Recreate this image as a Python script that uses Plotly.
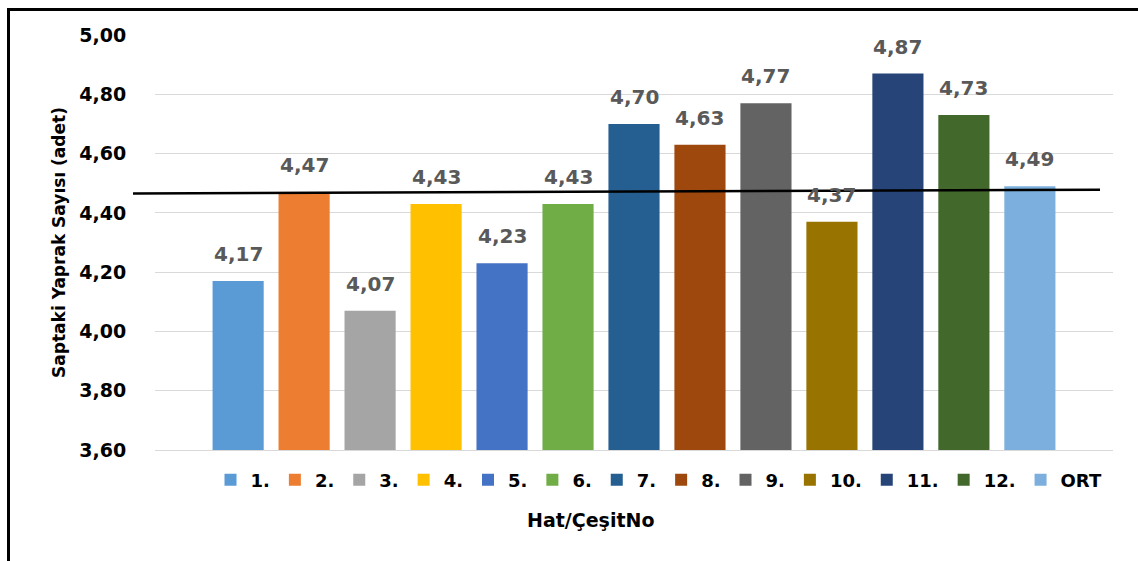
import plotly.graph_objects as go

# Series (one bar per line / cultivar) and their values
categories = ["1.", "2.", "3.", "4.", "5.", "6.", "7.", "8.", "9.", "10.", "11.", "12.", "ORT"]
values = [4.17, 4.47, 4.07, 4.43, 4.23, 4.43, 4.70, 4.63, 4.77, 4.37, 4.87, 4.73, 4.49]
colors = ["#5B9BD5", "#ED7D31", "#A5A5A5", "#FFC000", "#4472C4", "#70AD47", "#255E91",
          "#9E480E", "#636363", "#997300", "#264478", "#43682B", "#7CAFDD"]

# Reference (mean) line, start and end levels
ref_line_y = [4.465, 4.478]

y_ticks = [3.60, 3.80, 4.00, 4.20, 4.40, 4.60, 4.80, 5.00]

FONT = "DejaVu Sans"
W, H = 1138, 561
ML, MR, MT, MB = 155, 25, 35, 111
PW = W - ML - MR
PH = H - MT - MB


def px_x(p):
    return (p - ML) / PW


def px_y(p):
    return (H - MB - p) / PH


fig = go.Figure()
for i, (name, val, col) in enumerate(zip(categories, values, colors)):
    fig.add_trace(go.Bar(
        x=[i], y=[val], name=name, width=0.775,
        marker=dict(color=col, line=dict(width=0)),
        hoverinfo="skip",
    ))
    fig.add_annotation(
        x=i, y=val, text=f"{val:.2f}".replace(".", ","),
        showarrow=False, yanchor="bottom", yshift=13,
        font=dict(family=FONT, size=20, color="#595959", weight="bold"),
    )

# horizontal reference line across the chart
fig.add_shape(type="line", xref="paper", yref="y",
              x0=px_x(133), x1=px_x(1100), y0=ref_line_y[0], y1=ref_line_y[1],
              line=dict(color="black", width=2.5), layer="above")

# frame lines (top and left)
fig.add_shape(type="line", xref="paper", yref="paper",
              x0=px_x(7), x1=px_x(W + 20), y0=px_y(9.5), y1=px_y(9.5),
              line=dict(color="black", width=3))
fig.add_shape(type="line", xref="paper", yref="paper",
              x0=px_x(8.5), x1=px_x(8.5), y0=px_y(8), y1=px_y(H + 20),
              line=dict(color="black", width=3))

fig.add_annotation(
    xref="paper", yref="paper", x=px_x(590), y=px_y(520),
    text="Hat/ÇeşitNo", showarrow=False, xanchor="center", yanchor="middle",
    font=dict(family=FONT, size=19, color="black", weight="bold"),
)

fig.update_layout(
    width=W, height=H,
    margin=dict(l=ML, r=MR, t=MT, b=MB, autoexpand=False),
    paper_bgcolor="white", plot_bgcolor="white",
    separators=",.",
    barmode="overlay",
    showlegend=True,
    legend=dict(
        orientation="h", x=px_x(659), xanchor="center", y=px_y(480), yanchor="middle",
        font=dict(family=FONT, size=18, color="black", weight="bold"),
        bgcolor="rgba(0,0,0,0)", itemclick=False,
    ),
    font=dict(family=FONT, color="black"),
)

fig.update_xaxes(
    range=[-1.26, 13.26], showticklabels=False, showgrid=False, zeroline=False,
    showline=True, linecolor="#d9d9d9", linewidth=1, fixedrange=True,
)
fig.update_yaxes(
    range=[3.6, 5.0], tickvals=y_ticks, tickformat=".2f",
    showgrid=True, gridcolor="#d9d9d9", gridwidth=1, zeroline=False,
    ticks="outside", ticklen=24, tickcolor="rgba(0,0,0,0)",
    tickfont=dict(family=FONT, size=19, color="black", weight="bold"),
    title=dict(text="Saptaki Yaprak Sayısı (adet)", standoff=9,
               font=dict(family=FONT, size=17, color="black", weight="bold")),
    fixedrange=True,
)

fig.write_html("out.html")
